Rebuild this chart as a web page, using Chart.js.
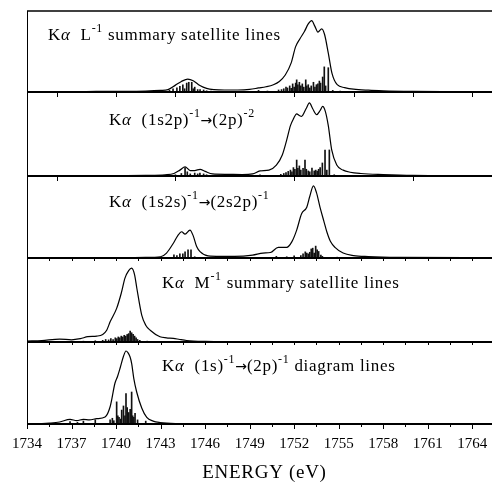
<!DOCTYPE html>
<html>
<head>
<meta charset="utf-8">
<script src="https://cdn.jsdelivr.net/npm/chart.js@4.4.1/dist/chart.umd.min.js"></script>
<style>
    body { margin: 0; background: #fff; }
    #wrap { position: relative; width: 492px; height: 483px; }
    #wrap canvas { position: absolute; left: 0; }
</style>
</head>
<body>
<div id="wrap"></div>
<script>
// energy axis (eV)
const energyMin = 1734;
const energyMax = 1765.33;
const tickLabels = [1734, 1737, 1740, 1743, 1746, 1749, 1752, 1755, 1758, 1761, 1764];

// K-alpha L^-1 summary satellite lines (intensity in % of panel height)
const satLEnvE = [1734, 1736, 1738, 1740, 1742, 1743, 1743.5, 1744.0, 1744.4, 1744.83, 1745.2, 1745.65, 1746.1, 1746.6, 1747.3, 1748.2, 1749.0, 1749.6, 1750.1, 1750.6, 1751.0, 1751.4, 1751.8, 1752.1, 1752.4, 1752.7, 1752.95, 1753.18, 1753.4, 1753.6, 1753.86, 1754.05, 1754.3, 1754.55, 1754.9, 1755.4, 1756, 1757, 1758, 1760, 1762, 1765.33];
const satLEnvI = [0.3, 0.4, 0.6, 0.8, 1.2, 2, 3, 8.5, 13, 16, 14, 8, 4.5, 3, 2.5, 2.5, 3.2, 5, 6.5, 9, 13, 21, 36, 56, 66, 75, 84, 88, 81, 74, 78, 71, 48, 23, 9, 5.5, 3.5, 2.2, 1.5, 0.8, 0.5, 0.3];
const satLStickE = [1743.6, 1743.84, 1744.1, 1744.3, 1744.5, 1744.62, 1744.76, 1744.9, 1745.1, 1745.2, 1745.3, 1745.5, 1745.66, 1745.9, 1746.1, 1746.4,
    1749.6, 1750.2, 1750.95, 1751.15, 1751.3, 1751.45, 1751.55, 1751.7, 1751.8, 1751.9, 1752.0, 1752.1, 1752.17, 1752.25, 1752.35, 1752.45, 1752.55, 1752.65, 1752.78, 1752.85,
    1752.95, 1753.05, 1753.15, 1753.3, 1753.4, 1753.5, 1753.6, 1753.7, 1753.78, 1753.92, 1754.03, 1754.12, 1754.3, 1754.6, 1755.1];
const satLStickI = [2, 4, 5, 7, 9, 4, 11, 12, 12, 4, 6, 3, 3, 2.5, 1.5, 1,
    2, 1.2, 2.5, 3, 4, 6, 5, 7.5, 4.5, 10, 6, 11, 15, 9, 12, 7.5, 10, 6, 15, 7.5,
    9, 5, 7.5, 12, 6, 9, 10, 13.5, 11, 18.5, 31, 7.5, 30, 2, 1.2];

// (1s2p)^-1 -> (2p)^-2
const s2pEnvE = [1734, 1738, 1742, 1743.3, 1743.9, 1744.3, 1744.65, 1745.0, 1745.3, 1745.66, 1746.0, 1746.5, 1747.5, 1748.5, 1749.2, 1749.7, 1750.3, 1750.8, 1751.2, 1751.5, 1751.75, 1751.95, 1752.17, 1752.35, 1752.5, 1752.8, 1753.03, 1753.25, 1753.52, 1753.75, 1753.92, 1754.1, 1754.3, 1754.53, 1754.87, 1755.3, 1755.77, 1756.5, 1758, 1760, 1765.33];
const s2pEnvI = [0.3, 0.4, 0.8, 1.5, 3, 7, 11, 6.5, 6.5, 8, 5.5, 2.5, 2, 1.8, 2.5, 6, 7, 13, 25, 43, 60, 68, 74, 72, 71, 80, 87, 80, 73, 78, 83, 77, 60, 31, 13, 7, 4.5, 3, 1.8, 0.8, 0.3];
const s2pStickE = [1744.0, 1744.4, 1744.65, 1744.8, 1745.0, 1745.3, 1745.5, 1745.65, 1745.9, 1746.1,
    1749.7, 1751.1, 1751.3, 1751.45, 1751.6, 1751.75, 1751.85, 1751.95, 1752.05, 1752.17, 1752.25, 1752.35, 1752.45, 1752.6, 1752.73,
    1752.82, 1752.95, 1753.05, 1753.2, 1753.35, 1753.45, 1753.55, 1753.65, 1753.75, 1753.9, 1754.08, 1754.2, 1754.37, 1754.7];
const s2pStickI = [1.5, 3, 10, 5, 2.5, 3.5, 2.5, 3.5, 2.5, 1.5,
    1.5, 2, 3, 4, 5.5, 7, 5, 10, 8, 19, 9, 12, 7, 9, 19,
    8, 6, 5, 9.5, 6, 7, 6, 8, 10, 15.5, 31, 7, 31, 1.5];

// (1s2s)^-1 -> (2s2p)^-1
const s2sEnvE = [1734, 1738, 1742, 1743.0, 1743.4, 1743.86, 1744.15, 1744.42, 1744.65, 1744.98, 1745.2, 1745.43, 1745.66, 1746.2, 1747, 1748, 1749.2, 1749.9, 1750.4, 1750.93, 1751.5, 1751.85, 1752.17, 1752.5, 1752.85, 1753.05, 1753.3, 1753.5, 1753.74, 1754.0, 1754.2, 1754.45, 1754.75, 1755.3, 1756, 1757, 1759, 1765.33];
const s2sEnvI = [0.3, 0.4, 0.7, 1.5, 6, 18, 27, 32, 29, 34, 27, 14, 7.7, 2.5, 2, 2, 3.5, 6, 6.7, 13, 13, 20, 34, 54, 62, 75, 88, 80, 62, 45, 32, 20, 13, 6, 3, 1.8, 0.8, 0.3];
const s2sStickE = [1743.9, 1744.1, 1744.3, 1744.5, 1744.65, 1744.85, 1745.05, 1745.3,
    1750.8, 1751.5, 1752.0, 1752.45, 1752.6, 1752.75, 1752.85, 1752.95, 1753.05, 1753.15, 1753.25, 1753.35, 1753.45, 1753.55, 1753.65, 1753.8, 1753.9, 1754.9];
const s2sStickI = [4, 3, 5, 5, 7.5, 10, 10, 1.5,
    2, 1.5, 2.5, 3, 5, 7.5, 6, 5, 7, 11, 12, 6, 14.5, 10, 8, 3.5, 2, 1];

// K-alpha M^-1 summary satellite lines
const satMEnvE = [1734, 1735, 1736.2, 1737, 1737.6, 1738.1, 1738.7, 1739.1, 1739.37, 1739.6, 1740.04, 1740.35, 1740.6, 1740.85, 1741.05, 1741.25, 1741.4, 1741.73, 1742.0, 1742.3, 1742.96, 1743.4, 1743.86, 1744.3, 1744.76, 1746, 1748, 1752, 1758, 1765.33];
const satMEnvI = [1, 1.8, 3.5, 2.6, 4, 6.3, 7, 9, 14, 24, 40, 58, 76, 85, 88, 80, 64, 32, 20, 14, 6.3, 5, 4.4, 3, 1.8, 0.8, 0.5, 0.3, 0.2, 0.1];
const satMStickE = [1737.8, 1738.6, 1739.1, 1739.3, 1739.5, 1739.65, 1739.8, 1739.95, 1740.05, 1740.15, 1740.25, 1740.35, 1740.45, 1740.55, 1740.65, 1740.75, 1740.85, 1740.95, 1741.05, 1741.15, 1741.25, 1741.35, 1741.45, 1741.6, 1742.1, 1742.8];
const satMStickI = [1, 1.5, 2, 3, 2.5, 4, 3, 5, 4, 6, 5, 7, 6, 8, 7, 9, 10, 13, 11, 9, 7, 5, 3, 2, 1, 0.8];

// (1s)^-1 -> (2p)^-1 diagram lines
const diagEnvE = [1734, 1735, 1735.5, 1736.2, 1736.9, 1737.35, 1737.8, 1738.2, 1738.7, 1739.26, 1739.6, 1739.93, 1740.1, 1740.27, 1740.49, 1740.67, 1740.8, 1740.94, 1741.05, 1741.2, 1741.39, 1741.73, 1742.07, 1742.5, 1742.96, 1744, 1746, 1750, 1765.33];
const diagEnvI = [0.2, 0.5, 1, 2.4, 5.7, 4, 5.7, 5, 6.5, 8.5, 21, 50, 58, 68, 82, 89, 87, 82, 74, 55, 39, 19.5, 8, 3.5, 1.8, 0.6, 0.3, 0.2, 0.1];
const diagStickE = [1736.9, 1737.4, 1737.8, 1738.6, 1739.6, 1739.75, 1739.85, 1740.04, 1740.12, 1740.2, 1740.3, 1740.38, 1740.5, 1740.6, 1740.67, 1740.75, 1740.85, 1740.95, 1741.05, 1741.12, 1741.2, 1741.28, 1741.45, 1742.0];
const diagStickI = [3, 2, 3.6, 5, 5, 7, 4, 27, 10, 8, 6, 17, 22, 10, 37, 20, 14, 18, 39, 10, 8, 13, 5, 3.5];

// panel captions: [text, style]  ('' normal, 'i' italic, 's' superscript, 'a' arrow)
const labelL = [['K', ''], ['\u03b1', 'i'], ['  L', ''], ['-1', 's'], [' summary satellite lines', '']];
const label2p = [['K', ''], ['\u03b1', 'i'], ['  (1s2p)', ''], ['-1', 's'], ['\u2192', 'a'], ['(2p)', ''], ['-2', 's']];
const label2s = [['K', ''], ['\u03b1', 'i'], ['  (1s2s)', ''], ['-1', 's'], ['\u2192', 'a'], ['(2s2p)', ''], ['-1', 's']];
const labelM = [['K', ''], ['\u03b1', 'i'], ['  M', ''], ['-1', 's'], [' summary satellite lines', '']];
const labelDiag = [['K', ''], ['\u03b1', 'i'], ['  (1s)', ''], ['-1', 's'], ['\u2192', 'a'], ['(2p)', ''], ['-1', 's'], [' diagram lines', '']];

const serif = "'Liberation Serif', 'Times New Roman', serif";

function range(start, stop, step) {
    const out = [];
    for (let v = start; v <= stop + 1e-9; v += step) out.push(v);
    return out;
}

const panels = [
    { env: [satLEnvE, satLEnvI], sticks: [satLStickE, satLStickI], label: labelL, labelAt: [1735.42, 64], topTicks: [], tickLen: 0 },
    { env: [s2pEnvE, s2pEnvI], sticks: [s2pStickE, s2pStickI], label: label2p, labelAt: [1739.53, 60.7], topTicks: range(1736, 1764, 4), tickLen: 5 },
    { env: [s2sEnvE, s2sEnvI], sticks: [s2sStickE, s2sStickI], label: label2s, labelAt: [1739.53, 62.6], topTicks: range(1736, 1760, 8), tickLen: 5 },
    { env: [satMEnvE, satMEnvI], sticks: [satMStickE, satMStickI], label: labelM, labelAt: [1743.1, 64.3], topTicks: range(1734, 1765, 1.5), tickLen: 3 },
    { env: [diagEnvE, diagEnvI], sticks: [diagStickE, diagStickI], label: labelDiag, labelAt: [1743.1, 65.2], topTicks: range(1734, 1765, 1.5), tickLen: 3 }
];

const panelTops = [11, 92, 176, 258, 342];
const plotBottom = 424;

function drawCaption(ctx, parts, x, y) {
    parts.forEach(([text, style]) => {
        ctx.letterSpacing = '0.7px';
        if (style === 's') {
            ctx.font = '12px ' + serif;
            ctx.fillText(text, x, y - 8);
        } else if (style === 'a') {
            ctx.letterSpacing = '0px';
            ctx.font = "14px 'DejaVu Sans', sans-serif";
            ctx.fillText(text, x, y);
        } else {
            ctx.font = (style === 'i' ? 'italic ' : '') + '17px ' + serif;
            ctx.fillText(text, x, y);
        }
        x += ctx.measureText(text).width;
    });
    ctx.letterSpacing = '0px';
}

function framePlugin(p, first, last) {
    return {
        id: 'frame',
        afterDatasetsDraw(chart) {
            const { ctx, chartArea: a, scales: { x, y } } = chart;
            ctx.save();
            ctx.strokeStyle = '#000';
            ctx.fillStyle = '#000';

            // left edge
            ctx.lineWidth = 1;
            ctx.beginPath();
            ctx.moveTo(a.left + 0.5, a.top);
            ctx.lineTo(a.left + 0.5, a.bottom);
            ctx.stroke();

            // ticks hanging from the top edge
            ctx.beginPath();
            p.topTicks.forEach(v => {
                const px = Math.round(x.getPixelForValue(v)) + 0.5;
                ctx.moveTo(px, a.top);
                ctx.lineTo(px, a.top + p.tickLen);
            });
            ctx.stroke();

            // panel borders
            if (first) {
                ctx.lineWidth = 1.5;
                ctx.beginPath();
                ctx.moveTo(a.left, a.top);
                ctx.lineTo(a.right, a.top);
                ctx.stroke();
            }
            ctx.lineWidth = 2;
            ctx.beginPath();
            ctx.moveTo(a.left, a.bottom);
            ctx.lineTo(a.right, a.bottom);
            ctx.stroke();

            if (last) {
                ctx.lineWidth = 1;
                ctx.beginPath();
                range(energyMin, energyMax, 1.5).forEach(v => {
                    const px = Math.round(x.getPixelForValue(v)) + 0.5;
                    const major = tickLabels.includes(v);
                    ctx.moveTo(px, a.bottom);
                    ctx.lineTo(px, a.bottom + (major ? 5 : 3));
                });
                ctx.stroke();

                ctx.textAlign = 'center';
                ctx.textBaseline = 'alphabetic';
                ctx.font = '15px ' + serif;
                tickLabels.forEach(v => ctx.fillText(String(v), x.getPixelForValue(v), a.bottom + 24));
                ctx.font = '19px ' + serif;
                ctx.letterSpacing = '0.7px';
                ctx.fillText('ENERGY (eV)', x.getPixelForValue(1750), a.bottom + 54);
                ctx.letterSpacing = '0px';
                ctx.textAlign = 'left';
            }

            drawCaption(ctx, p.label, x.getPixelForValue(p.labelAt[0]), y.getPixelForValue(p.labelAt[1]));
            ctx.restore();
        }
    };
}

const wrap = document.getElementById('wrap');

panels.forEach((p, i) => {
    const first = i === 0;
    const last = i === panels.length - 1;
    const top = panelTops[i];
    const bottom = last ? plotBottom : panelTops[i + 1];
    const padTop = 4;
    const padBottom = last ? 483 - bottom : 4;

    const canvas = document.createElement('canvas');
    canvas.width = 492;
    canvas.height = bottom - top + padTop + padBottom;
    canvas.style.top = (top - padTop) + 'px';
    wrap.appendChild(canvas);

    new Chart(canvas, {
        type: 'line',
        data: {
            datasets: [{
                type: 'line',
                data: p.env[0].map((e, k) => ({ x: e, y: p.env[1][k] })),
                borderColor: '#000',
                borderWidth: 1.2,
                pointRadius: 0,
                fill: false,
                cubicInterpolationMode: 'monotone',
                order: 0
            }, {
                type: 'bar',
                data: p.sticks[0].map((e, k) => ({ x: e, y: p.sticks[1][k] })),
                backgroundColor: '#111',
                barThickness: 1,
                order: 1
            }]
        },
        options: {
            responsive: false,
            animation: false,
            layout: { padding: { left: 27, right: 0, top: padTop, bottom: padBottom } },
            plugins: { legend: { display: false }, tooltip: { enabled: false } },
            scales: {
                x: { type: 'linear', min: energyMin, max: energyMax, display: false, offset: false },
                y: { min: 0, max: 100, display: false }
            }
        },
        plugins: [framePlugin(p, first, last)]
    });
});
</script>
</body>
</html>
